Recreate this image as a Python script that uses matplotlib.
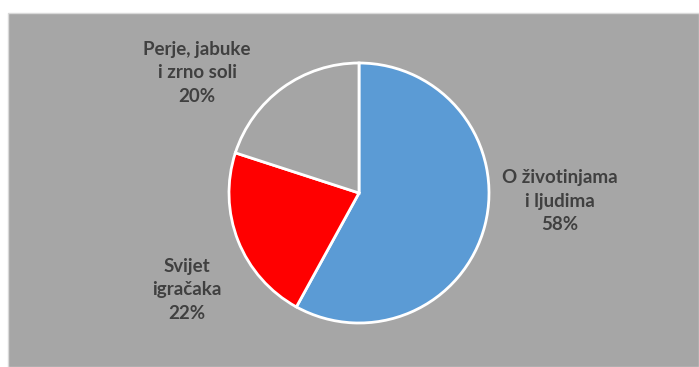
import matplotlib
matplotlib.use("Agg")
import matplotlib.pyplot as plt
from matplotlib.patches import Rectangle

# Data
categories = ["O životinjama\ni ljudima", "Svijet\nigračaka", "Perje, jabuke\ni zrno soli"]
shares = [58, 22, 20]
colors = ["#5b9bd5", "#ff0000", "#a5a5a5"]

W, H = 699, 367
fig = plt.figure(figsize=(W / 100, H / 100), dpi=100, facecolor="white")
ax = fig.add_axes([0, 0, 1, 1])

# Chart area background
ax.add_patch(Rectangle((8, 0), W - 8, H - 13, facecolor="#a6a6a6",
                       edgecolor="#d9d9d9", linewidth=1.0, zorder=0))

cx, cy, r = 359, H - 193, 130
ax.pie(shares, colors=colors, startangle=90, counterclock=False,
       center=(cx, cy), radius=r, frame=True,
       wedgeprops=dict(edgecolor="white", linewidth=2.0))
ax.set_xlim(0, W)
ax.set_ylim(0, H)
ax.set_aspect("equal")
ax.axis("off")

# Label anchor points (pixel coordinates of the label block centres)
label_pos = [(560, H - 201), (187, H - 290), (197, H - 73)]
for name, val, (lx, ly) in zip(categories, shares, label_pos):
    ax.text(lx, ly, f"{name}\n{val}%", ha="center", va="center",
            fontsize=13.5, fontweight="bold", color="#404040",
            family=["Lato", "DejaVu Sans"], linespacing=1.45)

fig.savefig("out.png", dpi=100, facecolor="white")
